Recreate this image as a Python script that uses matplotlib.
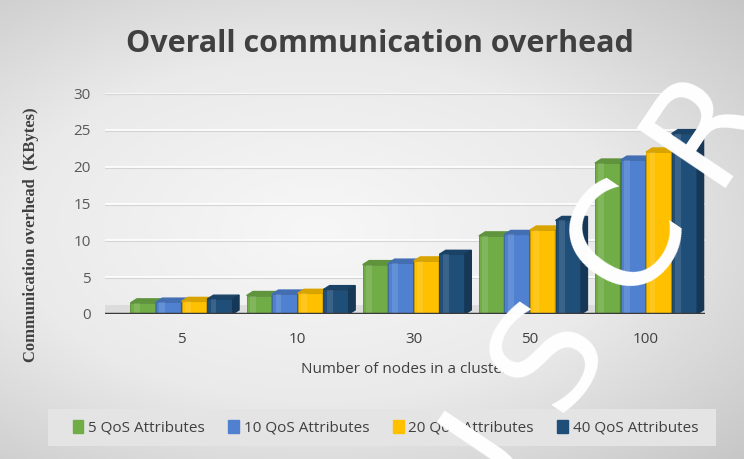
import numpy as np
import matplotlib.pyplot as plt
from matplotlib.patches import Polygon, Rectangle
import matplotlib.colors as mcolors

plt.rcParams['font.family'] = ['Open Sans', 'DejaVu Sans']

categories = ["5", "10", "30", "50", "100"]
series_names = ["5 QoS Attributes", "10 QoS Attributes", "20 QoS Attributes", "40 QoS Attributes"]
qos5 = [1.5, 2.5, 6.7, 10.6, 20.5]
qos10 = [1.6, 2.7, 6.9, 10.8, 20.9]
qos20 = [1.7, 2.8, 7.2, 11.4, 22.0]
qos40 = [2.0, 3.3, 8.1, 12.7, 24.5]
series = [qos5, qos10, qos20, qos40]
colors = ["#70AD47", "#4F81D0", "#FFC000", "#1F4E79"]

fig = plt.figure(figsize=(7.44, 4.59), dpi=100)

# gray radial background
bg = fig.add_axes([0, 0, 1, 1], zorder=-10)
yy, xx = np.mgrid[-1:1:300j, -1:1:400j]
r = np.sqrt(((xx + 0.15) / 1.1) ** 2 + (yy / 1.0) ** 2)
cmap = mcolors.LinearSegmentedColormap.from_list("bg", ["#F7F7F7", "#EAEAEA", "#C4C4C4"])
bg.imshow(r, cmap=cmap, aspect="auto", extent=[0, 1, 0, 1], vmin=0, vmax=1.5)
bg.set_axis_off()

ax = fig.add_axes([0.141, 0.316, 0.807, 0.481])
ax.patch.set_alpha(0)
ax.set_xlim(-0.66, 4.51)
ax.set_ylim(0, 30)

for v in range(5, 31, 5):
    ax.axhline(v, color="#FFFFFF", lw=1.2, zorder=0)
    ax.axhline(v - 0.15, color="#D5D5D5", lw=0.8, zorder=0)
# floor of the 3d chart
ax.axhspan(0, 1.2, color="#D2D2D2", alpha=0.6, lw=0, zorder=1)

w = 0.22
dx, dy = 0.055, 0.55
x = np.arange(len(categories))
for i, (vals, c) in enumerate(zip(series, colors)):
    xs = x - 2 * w + w * i
    ax.bar(xs, vals, width=w, align="edge", color=c, edgecolor=mcolors.to_hex(np.array(mcolors.to_rgb(c)) * 0.8),
           lw=0.6, zorder=3 + i)
    dark = np.array(mcolors.to_rgb(c)) * 0.7
    light = np.clip(np.array(mcolors.to_rgb(c)) * 0.85, 0, 1)
    for xi, v in zip(xs, vals):
        top = Polygon([(xi, v), (xi + w, v), (xi + w + dx, v + dy), (xi + dx, v + dy)],
                      closed=True, color=light, zorder=3 + i)
        side = Polygon([(xi + w, 0), (xi + w + dx, dy), (xi + w + dx, v + dy), (xi + w, v)],
                       closed=True, color=dark, zorder=3 + i)
        ax.add_patch(top)
        ax.add_patch(side)
        ax.add_patch(Rectangle((xi + 0.03, 0), 0.05, v, color="white", alpha=0.12, lw=0, zorder=3 + i))

for s in ax.spines.values():
    s.set_visible(False)
ax.axhline(0, color="#3A3A3A", lw=2.5, zorder=10)
ax.set_xticks(x)
ax.set_xticklabels(categories, fontsize=11, color="#404040")
ax.set_yticks(range(0, 31, 5))
ax.tick_params(axis="y", labelsize=11, labelcolor="#595959", length=0, pad=10)
ax.tick_params(axis="x", length=0, pad=13)
ax.set_xlabel("Number of nodes in a cluster", fontsize=11, color="#404040", labelpad=11)
ax.set_ylabel("Communication overhead  (KBytes)", fontsize=12, fontweight="bold", color="#404040",
              family=["Liberation Serif", "DejaVu Serif"])
ax.yaxis.set_label_coords(-0.11, 0.36)

fig.text(0.51, 0.905, "Overall communication overhead", ha="center", va="center",
         fontsize=22, color="#404040", fontweight="bold")

fig.patches.append(Rectangle((0.065, 0.028), 0.897, 0.08, transform=fig.transFigure,
                             facecolor="#E4E4E4", edgecolor="none", zorder=-5))
handles = [Rectangle((0, 0), 1, 1, color=c) for c in colors]
fig.legend(handles, series_names, loc="center", bbox_to_anchor=(0.518, 0.068), ncol=4,
           frameon=False, fontsize=11, handlelength=0.7, handleheight=0.9, handletextpad=0.3,
           columnspacing=1.55, labelcolor="#404040")

# "ACCEPTED MANUSCRIPT" watermark, diagonal white letters
ang = np.deg2rad(56)
sx, sy, step = 550, 355, 140
for k, ch in enumerate("USCRIPT"):
    px = sx + (k - 1) * step * np.cos(ang)
    py = sy - (k - 1) * step * np.sin(ang)
    fig.text(px / 744, 1 - py / 459, ch, rotation=56, rotation_mode="anchor", ha="center", va="center",
             fontsize=105, color="white", family="DejaVu Sans", zorder=20)

fig.savefig("out.png", dpi=100)
